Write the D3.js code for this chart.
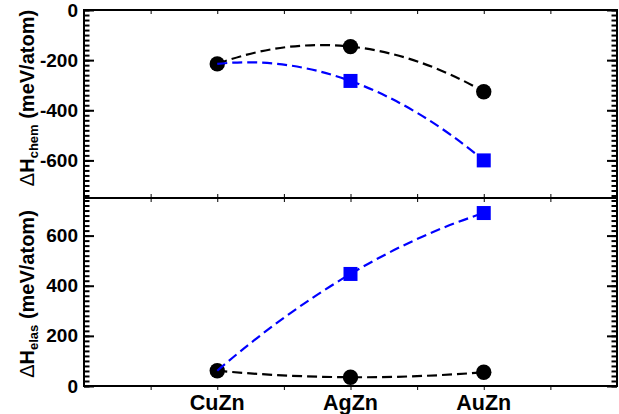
<!DOCTYPE html>
<html><head><meta charset="utf-8">
<script src="https://cdn.jsdelivr.net/npm/d3@7"></script>
<style>
html,body{margin:0;padding:0;background:#fff;}
svg{display:block;font-family:"Liberation Sans",Arial,sans-serif;}
</style></head>
<body>
<svg id="chart" width="619" height="414"></svg>
<script>
// ---- data ----
const categories = ["CuZn", "AgZn", "AuZn"];
const chemCircle = [-215, -146, -326];
const chemSquare = [-215, -283, -600];
const elasCircle = [61, 35, 55];
const elasSquare = [61, 447, 690];
const chemTicks = [0, -200, -400, -600];
const elasTicks = [0, 200, 400, 600];
const squareStart = 1; // blue squares are drawn from AgZn onward

const svg = d3.select("#chart");
const L = 84, R = 617, T = 10, M = 198, B = 386;

const x = d3.scaleLinear().domain([0, 4]).range([L, R]);
const yTop = d3.scaleLinear().domain([-750, 0]).range([M, T]);
const yBot = d3.scaleLinear().domain([0, 750]).range([B, M]);

// parabola through three equally spaced points as quadratic Bezier
function parabola(pts) {
  const p = d3.path();
  const [p0, p1, p2] = pts;
  const cx = 2 * p1[0] - (p0[0] + p2[0]) / 2;
  const cy = 2 * p1[1] - (p0[1] + p2[1]) / 2;
  p.moveTo(p0[0], p0[1]);
  p.quadraticCurveTo(cx, cy, p2[0], p2[1]);
  return p.toString();
}

function yAxes(y, majors, lo, hi) {
  const minors = d3.range(lo, hi + 0.1, 20);
  svg.append("g").attr("transform", `translate(${L},0)`)
    .call(d3.axisLeft(y).tickValues(minors).tickSize(-5.5).tickFormat(""))
    .call(g => g.select(".domain").remove())
    .call(g => g.selectAll("line").attr("stroke-width", 2));
  svg.append("g").attr("transform", `translate(${L},0)`)
    .call(d3.axisLeft(y).tickValues(majors).tickSize(-10).tickPadding(6))
    .call(g => g.select(".domain").remove())
    .call(g => g.selectAll("line").attr("stroke-width", 2))
    .call(g => g.selectAll("text").attr("font-size", 19).attr("font-weight", "bold")
      .attr("font-family", "Liberation Sans, Arial, sans-serif").attr("fill", "#000")
      .text(d => String(d)));
  svg.append("g").attr("transform", `translate(${R},0)`)
    .call(d3.axisRight(y).tickValues(minors).tickSize(-5.5).tickFormat(""))
    .call(g => g.select(".domain").remove())
    .call(g => g.selectAll("line").attr("stroke-width", 2));
  svg.append("g").attr("transform", `translate(${R},0)`)
    .call(d3.axisRight(y).tickValues(majors).tickSize(-10).tickFormat(""))
    .call(g => g.select(".domain").remove())
    .call(g => g.selectAll("line").attr("stroke-width", 2));
}
yAxes(yTop, chemTicks, -740, 0);
yAxes(yBot, elasTicks, 0, 740);

// x ticks on horizontal lines
const xTickVals = d3.range(0.5, 4, 0.5);
function xTicks(yPos, size) {
  svg.append("g").attr("transform", `translate(0,${yPos})`)
    .call(d3.axisBottom(x).tickValues(xTickVals).tickSize(size).tickFormat(""))
    .call(g => g.select(".domain").remove())
    .call(g => g.selectAll("line").attr("stroke-width", 1));
}
xTicks(T, 4);
xTicks(M, 4);
xTicks(M, -4);
xTicks(B, 4);

// frame
svg.append("rect").attr("x", L).attr("y", T).attr("width", R - L).attr("height", B - T)
  .attr("fill", "none").attr("stroke", "#000").attr("stroke-width", 2);
svg.append("line").attr("x1", L).attr("x2", R).attr("y1", M).attr("y2", M)
  .attr("stroke", "#000").attr("stroke-width", 2);

// category labels
svg.append("g").selectAll("text").data(categories).join("text")
  .attr("x", (d, i) => x(i + 1)).attr("y", 410)
  .attr("text-anchor", "middle").attr("font-size", 21.5).attr("font-weight", "bold")
  .text(d => d);

// series
function panel(y, circ, sq) {
  const cPts = circ.map((v, i) => [x(i + 1), y(v)]);
  const sPts = sq.map((v, i) => [x(i + 1), y(v)]);
  svg.append("path").attr("d", parabola(cPts)).attr("fill", "none")
    .attr("stroke", "#000").attr("stroke-width", 2.2).attr("stroke-dasharray", "10,5");
  svg.append("g").selectAll("circle").data(cPts).join("circle")
    .attr("cx", d => d[0]).attr("cy", d => d[1]).attr("r", 7.7).attr("fill", "#000");
  svg.append("path").attr("d", parabola(sPts)).attr("fill", "none")
    .attr("stroke", "#0000ff").attr("stroke-width", 2.2).attr("stroke-dasharray", "10,5");
  const s = 14;
  svg.append("g").selectAll("rect").data(sPts.slice(squareStart)).join("rect")
    .attr("x", d => d[0] - s / 2).attr("y", d => d[1] - s / 2)
    .attr("width", s).attr("height", s).attr("fill", "#0000ff");
}
panel(yTop, chemCircle, chemSquare);
panel(yBot, elasCircle, elasSquare);

// y titles
function yTitle(cy, sub) {
  const t = svg.append("text").attr("transform", `translate(34,${cy}) rotate(-90)`)
    .attr("text-anchor", "middle").attr("font-size", 20).attr("font-weight", "bold");
  t.append("tspan").attr("font-weight", "normal").text("\u0394");
  t.append("tspan").text("H");
  t.append("tspan").attr("font-size", 13).attr("dy", 4).text(sub);
  t.append("tspan").attr("dy", -4).text(" (meV/atom)");
}
yTitle(98, "chem");
yTitle(294, "elas");
</script>
</body></html>
